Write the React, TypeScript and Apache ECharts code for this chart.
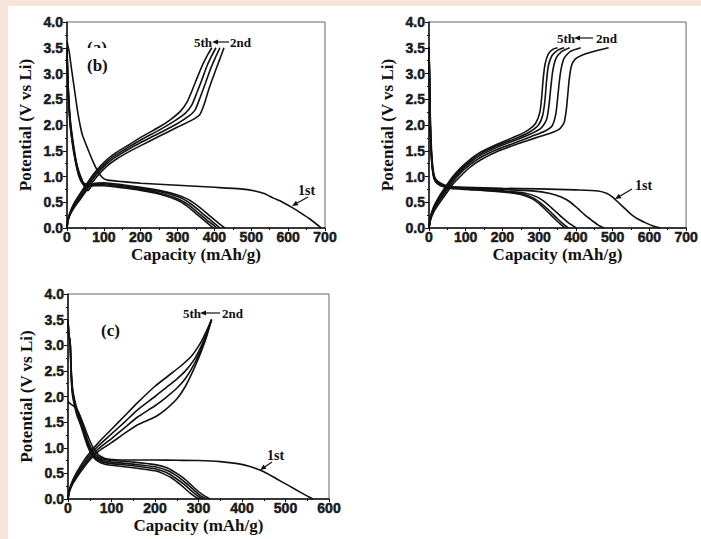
import React, { useEffect, useRef } from "react";
import * as echarts from "echarts";

type Pt = [number, number];

// ---------- Panel (a)/(b): top-left ----------
const A_DIS1: Pt[] = [[0,3.62],[3,3.52],[6,3.42],[12,3.1],[20,2.7],[28,2.3],[36,1.98],[42,1.8],[50,1.65],[60,1.47],[70,1.3],[80,1.15],[90,1.03],[100,0.96],[110,0.93],[150,0.9],[200,0.87],[300,0.83],[400,0.79],[470,0.76],[510,0.72],[535,0.67],[560,0.58],[585,0.5],[610,0.4],[635,0.29],[660,0.17],[690,0]];
const A_DIS2: Pt[] = [[0,3.5],[2,3.0],[5,2.5],[9,2.1],[13,1.85],[18,1.6],[25,1.3],[32,1.1],[40,0.95],[47,0.8],[53,0.73],[58,0.73],[65,0.8],[75,0.87],[100,0.88],[150,0.84],[200,0.79],[250,0.73],[300,0.64],[330,0.55],[360,0.4],[390,0.22],[410,0.1],[428,0]];
const A_DIS3: Pt[] = [[0,3.48],[2,2.95],[5,2.45],[9,2.05],[13,1.8],[18,1.55],[25,1.27],[32,1.07],[40,0.93],[48,0.86],[60,0.85],[75,0.86],[100,0.86],[150,0.82],[200,0.77],[250,0.71],[300,0.61],[330,0.5],[360,0.33],[385,0.18],[400,0.09],[415,0]];
const A_DIS4: Pt[] = [[0,3.46],[2,2.9],[5,2.4],[9,2.0],[13,1.76],[18,1.52],[25,1.24],[32,1.04],[40,0.9],[48,0.84],[60,0.83],[75,0.84],[100,0.84],[150,0.8],[200,0.75],[250,0.68],[300,0.57],[330,0.45],[355,0.3],[380,0.15],[395,0.07],[406,0]];
const A_DIS5: Pt[] = [[0,3.44],[2,2.85],[5,2.35],[9,1.96],[13,1.72],[18,1.48],[25,1.21],[32,1.01],[40,0.88],[48,0.82],[60,0.81],[75,0.82],[100,0.82],[150,0.78],[200,0.73],[250,0.66],[300,0.54],[325,0.43],[350,0.28],[372,0.15],[387,0.06],[397,0]];
const A_CHG2: Pt[] = [[0,0],[3,0.15],[10,0.28],[20,0.4],[35,0.55],[50,0.7],[70,0.9],[90,1.07],[110,1.21],[130,1.32],[160,1.45],[200,1.6],[250,1.78],[300,1.96],[340,2.1],[360,2.2],[372,2.4],[385,2.7],[400,3.0],[413,3.25],[426,3.5]];
const A_CHG3: Pt[] = [[0,0],[3,0.16],[10,0.3],[20,0.43],[35,0.58],[50,0.74],[70,0.95],[90,1.12],[110,1.26],[130,1.37],[160,1.5],[200,1.66],[250,1.84],[300,2.03],[330,2.17],[348,2.3],[362,2.55],[376,2.82],[390,3.1],[402,3.3],[415,3.5]];
const A_CHG4: Pt[] = [[0,0],[3,0.17],[10,0.32],[20,0.46],[35,0.62],[50,0.78],[70,0.99],[90,1.16],[110,1.3],[130,1.41],[160,1.54],[200,1.71],[250,1.9],[290,2.07],[320,2.22],[338,2.38],[352,2.62],[366,2.88],[380,3.15],[393,3.35],[404,3.5]];
const A_CHG5: Pt[] = [[0,0],[3,0.18],[10,0.34],[20,0.49],[35,0.66],[50,0.82],[70,1.03],[90,1.2],[110,1.34],[130,1.45],[160,1.58],[200,1.76],[250,1.96],[280,2.1],[308,2.27],[326,2.45],[340,2.68],[355,2.95],[370,3.2],[383,3.38],[393,3.5]];

// ---------- Panel top-right ----------
const B_DIS1: Pt[] = [[0,3.5],[2,2.8],[4,2.0],[7,1.5],[11,1.15],[16,0.98],[25,0.9],[40,0.84],[60,0.8],[100,0.79],[200,0.77],[300,0.76],[400,0.74],[460,0.72],[485,0.67],[500,0.6],[515,0.5],[530,0.4],[545,0.3],[565,0.19],[590,0.1],[610,0.04],[630,0]];
const B_DIS2: Pt[] = [[0,3.5],[2,2.7],[4,1.9],[7,1.4],[11,1.1],[16,0.95],[25,0.88],[40,0.83],[60,0.8],[100,0.78],[200,0.75],[280,0.72],[330,0.67],[360,0.6],[385,0.5],[405,0.38],[425,0.25],[445,0.14],[460,0.06],[476,0]];
const B_DIS3: Pt[] = [[0,3.5],[2,2.65],[4,1.85],[7,1.37],[11,1.08],[16,0.94],[25,0.87],[40,0.82],[60,0.79],[100,0.77],[200,0.72],[260,0.68],[295,0.6],[320,0.48],[340,0.35],[360,0.22],[380,0.1],[401,0]];
const B_DIS4: Pt[] = [[0,3.5],[2,2.6],[4,1.8],[7,1.34],[11,1.06],[16,0.93],[25,0.86],[40,0.81],[60,0.78],[100,0.76],[200,0.71],[255,0.66],[285,0.58],[310,0.45],[330,0.32],[350,0.18],[365,0.08],[379,0]];
const B_DIS5: Pt[] = [[0,3.5],[2,2.55],[4,1.75],[7,1.31],[11,1.04],[16,0.92],[25,0.85],[40,0.8],[60,0.77],[100,0.75],[200,0.7],[250,0.65],[280,0.57],[305,0.44],[325,0.3],[345,0.16],[360,0.06],[370,0]];
const B_CHG1: Pt[] = [[0,0],[4,0.15],[12,0.3],[25,0.45],[45,0.65],[65,0.85],[85,1.0],[110,1.17],[140,1.32],[190,1.5],[240,1.63],[290,1.75],[330,1.84],[355,1.92],[368,2.05],[374,2.3],[378,2.6],[382,2.9],[388,3.15],[398,3.28],[415,3.35],[450,3.43],[489,3.5]];
const B_CHG2: Pt[] = [[0,0],[4,0.17],[12,0.33],[25,0.5],[45,0.7],[65,0.9],[85,1.06],[110,1.22],[140,1.37],[190,1.54],[240,1.67],[280,1.78],[315,1.88],[335,1.98],[345,2.2],[350,2.5],[355,2.85],[360,3.1],[368,3.3],[385,3.43],[413,3.5]];
const B_CHG3: Pt[] = [[0,0],[4,0.19],[12,0.36],[25,0.53],[45,0.74],[65,0.94],[85,1.1],[110,1.26],[140,1.41],[190,1.58],[240,1.72],[275,1.82],[305,1.94],[320,2.1],[327,2.4],[332,2.75],[337,3.05],[345,3.28],[360,3.42],[383,3.5]];
const B_CHG4: Pt[] = [[0,0],[4,0.2],[12,0.38],[25,0.56],[45,0.77],[65,0.97],[85,1.13],[110,1.29],[140,1.44],[190,1.61],[240,1.75],[275,1.87],[298,2.0],[310,2.2],[316,2.5],[320,2.85],[325,3.15],[335,3.35],[350,3.45],[368,3.5]];
const B_CHG5: Pt[] = [[0,0],[4,0.21],[12,0.4],[25,0.58],[45,0.8],[65,1.0],[85,1.16],[110,1.32],[140,1.47],[190,1.64],[240,1.79],[270,1.9],[290,2.03],[302,2.25],[307,2.55],[311,2.9],[316,3.18],[325,3.38],[337,3.47],[350,3.5]];

// ---------- Panel (c): bottom-left ----------
const C_DIS1: Pt[] = [[0,1.9],[5,1.86],[12,1.82],[20,1.75],[28,1.62],[38,1.4],[48,1.18],[58,1.0],[70,0.86],[85,0.79],[100,0.77],[150,0.76],[200,0.76],[250,0.755],[300,0.75],[350,0.73],[390,0.69],[420,0.63],[445,0.55],[470,0.44],[495,0.32],[520,0.2],[545,0.08],[563,0]];
const C_DIS2: Pt[] = [[0,3.5],[2,3.2],[5,3.05],[7,2.6],[10,2.2],[14,1.98],[20,1.78],[30,1.55],[45,1.15],[58,0.92],[70,0.82],[85,0.77],[100,0.75],[150,0.72],[200,0.67],[230,0.6],[250,0.5],[270,0.38],[290,0.22],[310,0.08],[326,0]];
const C_DIS3: Pt[] = [[0,3.5],[2,3.2],[5,3.05],[7,2.55],[10,2.15],[14,1.94],[20,1.73],[30,1.5],[45,1.11],[58,0.88],[70,0.79],[85,0.74],[100,0.72],[150,0.68],[200,0.63],[230,0.55],[250,0.45],[270,0.32],[290,0.17],[305,0.06],[318,0]];
const C_DIS4: Pt[] = [[0,3.5],[2,3.2],[5,3.05],[7,2.5],[10,2.1],[14,1.9],[20,1.69],[30,1.46],[45,1.07],[58,0.85],[70,0.76],[85,0.71],[100,0.69],[150,0.65],[200,0.59],[225,0.52],[245,0.42],[265,0.3],[285,0.15],[300,0.05],[310,0]];
const C_DIS5: Pt[] = [[0,3.5],[2,3.2],[5,3.05],[7,2.45],[10,2.05],[14,1.86],[20,1.65],[30,1.42],[45,1.03],[58,0.82],[70,0.73],[85,0.68],[100,0.66],[150,0.61],[200,0.55],[220,0.49],[240,0.4],[260,0.27],[280,0.12],[295,0.03],[303,0]];
const C_CHG2: Pt[] = [[0,0],[3,0.13],[10,0.28],[20,0.42],[35,0.6],[50,0.76],[70,0.93],[100,1.1],[130,1.28],[160,1.45],[200,1.6],[225,1.75],[250,1.95],[270,2.2],[290,2.55],[305,2.85],[318,3.15],[330,3.5]];
const C_CHG3: Pt[] = [[0,0],[3,0.15],[10,0.3],[20,0.45],[35,0.64],[50,0.8],[70,0.98],[100,1.18],[130,1.39],[160,1.6],[200,1.82],[225,1.98],[250,2.16],[270,2.35],[290,2.63],[305,2.9],[318,3.18],[330,3.5]];
const C_CHG4: Pt[] = [[0,0],[3,0.16],[10,0.32],[20,0.48],[35,0.68],[50,0.85],[70,1.04],[100,1.27],[130,1.5],[160,1.74],[200,2.0],[225,2.17],[250,2.34],[270,2.5],[290,2.72],[305,2.96],[318,3.22],[330,3.5]];
const C_CHG5: Pt[] = [[0,0],[3,0.18],[10,0.35],[20,0.52],[35,0.73],[50,0.9],[70,1.1],[100,1.36],[130,1.62],[160,1.88],[200,2.2],[230,2.4],[260,2.6],[285,2.8],[305,3.05],[318,3.27],[330,3.5]];

const Y_MAX = 4;
const Y_STEP = 0.5;
const X_STEP = 100;
const X_MAX_A = 700;
const X_MAX_B = 700;
const X_MAX_C = 600;

const PANEL_CURVES: Pt[][][] = [
  [A_DIS1, A_DIS2, A_DIS3, A_DIS4, A_DIS5, A_CHG2, A_CHG3, A_CHG4, A_CHG5],
  [B_DIS1, B_DIS2, B_DIS3, B_DIS4, B_DIS5, B_CHG1, B_CHG2, B_CHG3, B_CHG4, B_CHG5],
  [C_DIS1, C_DIS2, C_DIS3, C_DIS4, C_DIS5, C_CHG2, C_CHG3, C_CHG4, C_CHG5],
];

const SERIF = '"Liberation Serif", "Times New Roman", serif';
const SANS = '"Liberation Sans", Arial, sans-serif';
const INK = "#111";

function arrow(x1: number, y1: number, x2: number, y2: number): any[] {
  const dx = x2 - x1, dy = y2 - y1;
  const len = Math.sqrt(dx * dx + dy * dy);
  const ux = dx / len, uy = dy / len;
  const hl = 6, hw = 2.6;
  const bx = x2 - ux * hl, by = y2 - uy * hl;
  return [
    { type: "line", shape: { x1, y1, x2: bx, y2: by }, style: { stroke: INK, lineWidth: 1.2 }, z: 10 },
    { type: "polygon", shape: { points: [[x2, y2], [bx - uy * hw, by + ux * hw], [bx + uy * hw, by - ux * hw]] }, style: { fill: INK }, z: 10 },
  ];
}

function txt(text: string, x: number, y: number, size: number, z = 11): any {
  return {
    type: "text", x, y, z,
    style: { text, font: `bold ${size}px ${SERIF}`, fill: INK, align: "left", verticalAlign: "middle" },
  };
}

const LABEL_STYLE = {
  fontFamily: SANS, fontWeight: "bold", fontSize: 14, color: "#1a1a1a",
  textBorderColor: "#1a1a1a", textBorderWidth: 0.5,
};

function xAxis(gridIndex: number, max: number): any {
  return {
    type: "value", gridIndex, min: 0, max, interval: X_STEP,
    name: "Capacity (mAh/g)", nameLocation: "middle", nameGap: 18,
    nameTextStyle: { fontFamily: SERIF, fontWeight: "bold", fontSize: 17, color: INK },
    axisLine: { show: true, onZero: false, lineStyle: { color: INK, width: 1.5 } },
    axisTick: { show: true, inside: false, length: 3, lineStyle: { color: INK, width: 1 } },
    minorTick: { show: true, splitNumber: 2, length: 2, lineStyle: { color: INK, width: 1 } },
    axisLabel: { ...LABEL_STYLE, margin: 2, showMaxLabel: true },
    splitLine: { show: false },
  };
}

function yAxis(gridIndex: number): any {
  return {
    type: "value", gridIndex, min: 0, max: Y_MAX, interval: Y_STEP,
    name: "Potential (V vs Li)", nameLocation: "middle", nameGap: 33,
    nameTextStyle: { fontFamily: SERIF, fontWeight: "bold", fontSize: 17, color: INK },
    axisLine: { show: true, onZero: false, lineStyle: { color: INK, width: 1.5 } },
    axisTick: { show: true, inside: false, length: 4, lineStyle: { color: INK, width: 1 } },
    minorTick: { show: true, splitNumber: 2, length: 2, lineStyle: { color: INK, width: 1 } },
    axisLabel: { ...LABEL_STYLE, margin: 4, formatter: (v: number) => v.toFixed(1) },
    splitLine: { show: false },
  };
}

export default function App() {
  const ref = useRef<HTMLDivElement>(null);
  useEffect(() => {
    document.body.style.margin = "0";
    if (!ref.current) return;
    const chart = echarts.init(ref.current, undefined, { renderer: "svg" });
    const series: any[] = [];
    PANEL_CURVES.forEach((curves, pi) => {
      curves.forEach((data) => {
        series.push({
          type: "line", xAxisIndex: pi, yAxisIndex: pi, data, symbol: "none", smooth: 0.2,
          lineStyle: { color: INK, width: 1.6 }, silent: true, clip: true,
        });
      });
    });
    const graphic: any[] = [
      { type: "rect", shape: { x: 0, y: 0, width: 701, height: 6 }, style: { fill: "#f7e5dc" }, z: 0 },
      { type: "rect", shape: { x: 0, y: 0, width: 8, height: 539 }, style: { fill: "#f7e5dc" }, z: 0 },
      // panel a/b labels
      txt("(a)", 87, 47, 17, 9),
      { type: "rect", shape: { x: 82, y: 48, width: 34, height: 9 }, style: { fill: "#fff" }, z: 10 },
      txt("(b)", 87, 65, 17, 11),
      txt("5th", 194, 42, 13),
      ...arrow(229, 42, 212, 42),
      txt("2nd", 230, 42, 13),
      txt("1st", 298, 190, 14),
      ...arrow(308, 197, 292, 206),
      // panel 2 labels
      txt("5th", 557, 38, 13),
      ...arrow(593, 38, 574, 38),
      txt("2nd", 596, 38, 13),
      txt("1st", 635, 185, 14),
      ...arrow(632, 189, 615, 199),
      // panel c labels
      txt("(c)", 101, 330, 17),
      txt("5th", 183, 313, 13),
      ...arrow(220, 313, 200, 313),
      txt("2nd", 222, 313, 13),
      txt("1st", 267, 455, 14),
      ...arrow(272, 462, 260, 470),
    ];
    chart.setOption({
      animation: false,
      backgroundColor: "#ffffff",
      grid: [
        { left: 67, top: 22, width: 258, height: 206, show: true, borderColor: "#666", borderWidth: 1, backgroundColor: "transparent" },
        { left: 429, top: 22, width: 262, height: 206, show: true, borderColor: "#666", borderWidth: 1, backgroundColor: "transparent" },
        { left: 68, top: 294, width: 261, height: 205, show: true, borderColor: "#666", borderWidth: 1, backgroundColor: "transparent" },
      ],
      xAxis: [xAxis(0, X_MAX_A), xAxis(1, X_MAX_B), xAxis(2, X_MAX_C)],
      yAxis: [yAxis(0), yAxis(1), yAxis(2)],
      series,
      graphic,
    });
    return () => chart.dispose();
  }, []);
  return <div ref={ref} style={{ position: "absolute", left: 0, top: 0, width: 701, height: 539 }} />;
}
